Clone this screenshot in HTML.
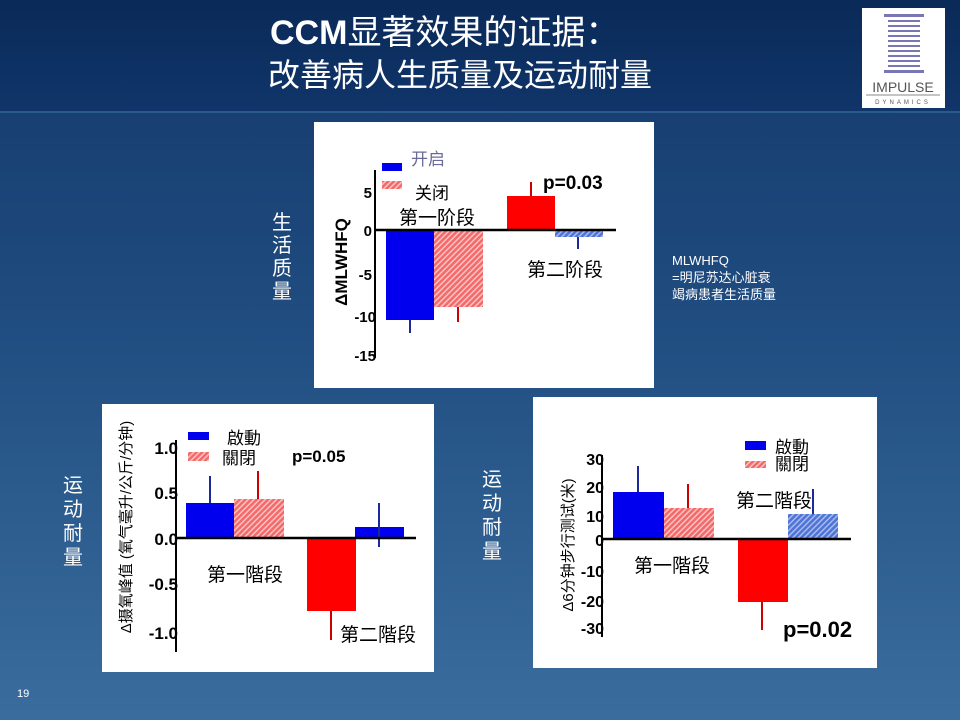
<!DOCTYPE html>
<html><head><meta charset="utf-8"><style>
body{margin:0;width:960px;height:720px;overflow:hidden;font-family:"Liberation Sans","Noto Sans CJK SC",sans-serif;}
#bg{position:absolute;left:0;top:0;width:960px;height:720px;background:linear-gradient(180deg,#15386a 0%,#1e4a7e 40%,#3a6d9e 100%);}
#hd{position:absolute;left:0;top:0;width:960px;height:111px;background:linear-gradient(180deg,#0a2a58,#10356a);border-bottom:2px solid #2a5a8c;}
.t{position:absolute;color:#fff;white-space:nowrap;}
</style></head><body>
<div id="bg"></div><div id="hd"></div>
<div class="t" style="left:270px;top:5px;font-size:34px;"><b>CCM</b>显著效果的证据：</div>
<div class="t" style="left:268px;top:50px;font-size:32px;">改善病人生质量及运动耐量</div>
<div style="position:absolute;left:862px;top:8px;width:83px;height:100px;background:#fff;"></div>
<svg style="position:absolute;left:0;top:0" width="960" height="720" xmlns="http://www.w3.org/2000/svg" font-family="Liberation Sans, Noto Sans CJK SC, sans-serif">
<defs>
<pattern id="hr" width="4" height="4" patternUnits="userSpaceOnUse" patternTransform="rotate(45)"><rect width="4" height="4" fill="#f46a6a"/><rect width="1.5" height="4" fill="#fff" opacity=".6"/></pattern>
<pattern id="hb" width="4" height="4" patternUnits="userSpaceOnUse" patternTransform="rotate(45)"><rect width="4" height="4" fill="#4f74d8"/><rect width="1.5" height="4" fill="#fff" opacity=".5"/></pattern>
</defs>
<g fill="#7a76b4">
<rect x="884" y="14" width="40" height="3"/><rect x="888" y="20" width="32" height="2"/><rect x="888" y="25" width="32" height="2"/><rect x="888" y="30" width="32" height="2"/><rect x="888" y="35" width="32" height="2"/><rect x="888" y="40" width="32" height="2"/><rect x="888" y="45" width="32" height="2"/><rect x="888" y="50" width="32" height="2"/><rect x="888" y="55" width="32" height="2"/><rect x="888" y="60" width="32" height="2"/><rect x="888" y="65" width="32" height="2"/><rect x="884" y="70" width="40" height="3"/>
</g>
<text x="903" y="92" font-size="14" fill="#555" text-anchor="middle">IMPULSE</text>
<line x1="866" y1="95" x2="940" y2="95" stroke="#888"/>
<text x="903" y="104" font-size="6" fill="#555" text-anchor="middle" letter-spacing="3">DYNAMICS</text>

<rect x="314" y="122" width="340" height="266" fill="#fff"/>
<rect x="386" y="230" width="48" height="90" fill="#0000ee"/>
<rect x="434" y="230" width="49" height="77" fill="url(#hr)"/>
<rect x="507" y="196" width="48" height="34" fill="#f00"/>
<rect x="555" y="230" width="48" height="7" fill="url(#hb)"/>
<g stroke-width="2"><line x1="410" y1="320" x2="410" y2="333" stroke="#1a2a9a"/><line x1="458" y1="307" x2="458" y2="322" stroke="#c00"/><line x1="531" y1="196" x2="531" y2="182" stroke="#c00"/><line x1="578" y1="237" x2="578" y2="249" stroke="#1a2a9a"/></g>
<line x1="375" y1="170" x2="375" y2="358" stroke="#000" stroke-width="2"/>
<line x1="375" y1="230" x2="616" y2="230" stroke="#000" stroke-width="2.5"/>
<g font-size="15" font-weight="bold" text-anchor="end"><text x="372" y="198">5</text><text x="372" y="236">0</text><text x="372" y="280">-5</text><text x="376" y="322">-10</text><text x="376" y="361">-15</text></g>
<text transform="translate(347,262) rotate(-90)" font-size="17" font-weight="bold" text-anchor="middle">ΔMLWHFQ</text>
<rect x="382" y="163" width="20" height="8" fill="#0000ee"/><rect x="382" y="181" width="20" height="8" fill="url(#hr)"/>
<text x="411" y="165" font-size="17" fill="#6a6a9a">开启</text>
<text x="415" y="199" font-size="17">关闭</text>
<text x="399" y="224" font-size="19">第一阶段</text>
<text x="527" y="276" font-size="19">第二阶段</text>
<text x="543" y="189" font-size="19" font-weight="bold">p=0.03</text>

<rect x="102" y="404" width="332" height="268" fill="#fff"/>
<rect x="186" y="503" width="48" height="35" fill="#0000ee"/>
<rect x="234" y="499" width="50" height="39" fill="url(#hr)"/>
<rect x="307" y="538" width="49" height="73" fill="#f00"/>
<rect x="355" y="527" width="49" height="11" fill="#0000ee"/>
<g stroke-width="2"><line x1="210" y1="503" x2="210" y2="476" stroke="#1a2a9a"/><line x1="258" y1="499" x2="258" y2="471" stroke="#c00"/><line x1="331" y1="611" x2="331" y2="640" stroke="#c00"/><line x1="379" y1="503" x2="379" y2="547" stroke="#1a2a9a"/></g>
<line x1="176" y1="440" x2="176" y2="652" stroke="#000" stroke-width="2"/>
<line x1="176" y1="538" x2="416" y2="538" stroke="#000" stroke-width="2.5"/>
<g font-size="17" font-weight="bold" text-anchor="end"><text x="178" y="454">1.0</text><text x="178" y="499">0.5</text><text x="178" y="545">0.0</text><text x="178" y="590">-0.5</text><text x="178" y="639">-1.0</text></g>
<text transform="translate(131,527) rotate(-90)" font-size="15" text-anchor="middle">Δ摄氧峰值 (氧气毫升/公斤/分钟)</text>
<rect x="188" y="432" width="21" height="8" fill="#0000ee"/><rect x="188" y="452" width="21" height="9" fill="url(#hr)"/>
<text x="227" y="444" font-size="17">啟動</text>
<text x="222" y="464" font-size="17">關閉</text>
<text x="292" y="462" font-size="17" font-weight="bold">p=0.05</text>
<text x="207" y="581" font-size="19">第一階段</text>
<text x="340" y="641" font-size="19">第二階段</text>

<rect x="533" y="397" width="344" height="271" fill="#fff"/>
<rect x="613" y="492" width="51" height="47" fill="#0000ee"/>
<rect x="664" y="508" width="50" height="31" fill="url(#hr)"/>
<rect x="738" y="539" width="50" height="63" fill="#f00"/>
<rect x="788" y="514" width="50" height="25" fill="url(#hb)"/>
<g stroke-width="2"><line x1="638" y1="492" x2="638" y2="466" stroke="#1a2a9a"/><line x1="688" y1="508" x2="688" y2="484" stroke="#c00"/><line x1="762" y1="602" x2="762" y2="630" stroke="#c00"/><line x1="813" y1="514" x2="813" y2="489" stroke="#1a2a9a"/></g>
<line x1="602" y1="455" x2="602" y2="637" stroke="#000" stroke-width="2"/>
<line x1="602" y1="539" x2="851" y2="539" stroke="#000" stroke-width="2.5"/>
<g font-size="16" font-weight="bold" text-anchor="end"><text x="604" y="465">30</text><text x="604" y="493">20</text><text x="604" y="522">10</text><text x="604" y="546">0</text><text x="604" y="577">-10</text><text x="604" y="607">-20</text><text x="604" y="634">-30</text></g>
<text transform="translate(573,545) rotate(-90)" font-size="15" text-anchor="middle">Δ6分钟步行测试(米)</text>
<rect x="745" y="441" width="21" height="9" fill="#0000ee"/><rect x="745" y="461" width="21" height="7" fill="url(#hr)"/>
<text x="775" y="453" font-size="17">啟動</text>
<text x="775" y="470" font-size="17">關閉</text>
<text x="736" y="507" font-size="19">第二階段</text>
<text x="634" y="572" font-size="19">第一階段</text>
<text x="783" y="637" font-size="22" font-weight="bold">p=0.02</text>
</svg>
<div class="t" style="left:272px;top:212px;font-size:20px;line-height:23px;width:22px;white-space:normal;">生活质量</div>
<div class="t" style="left:63px;top:474px;font-size:20px;line-height:24px;width:22px;white-space:normal;">运动耐量</div>
<div class="t" style="left:482px;top:468px;font-size:20px;line-height:24px;width:22px;white-space:normal;">运动耐量</div>
<div class="t" style="left:672px;top:252px;font-size:13px;line-height:17px;">MLWHFQ<br>=明尼苏达心脏衰<br>竭病患者生活质量</div>
<div class="t" style="left:17px;top:688px;font-size:11px;">19</div>
</body></html>
